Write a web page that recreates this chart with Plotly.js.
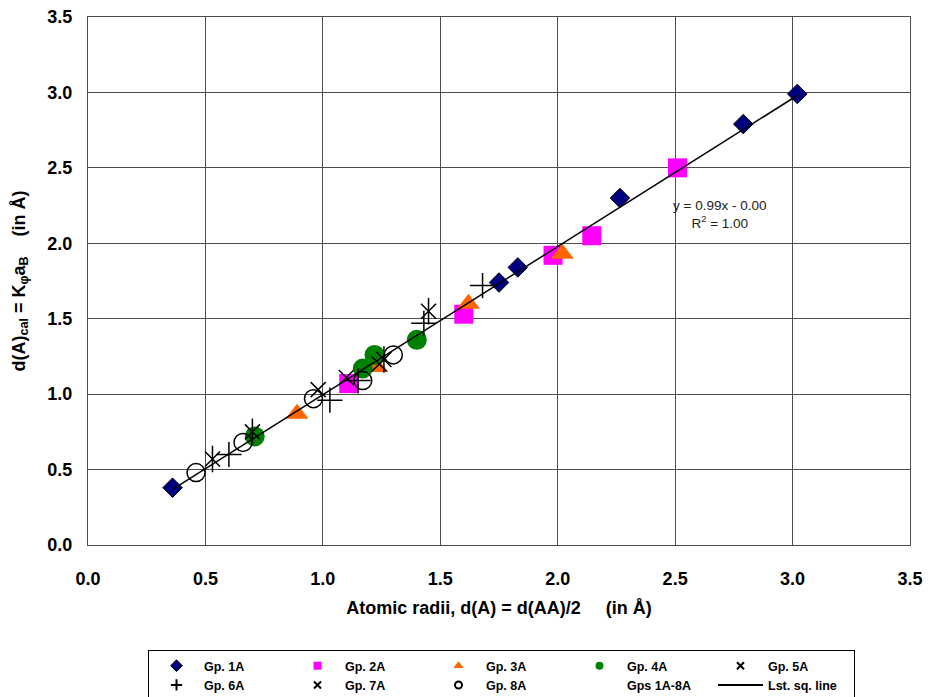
<!DOCTYPE html>
<html>
<head>
<meta charset="utf-8">
<script src="https://cdn.plot.ly/plotly-3.0.1.min.js"></script>
<style>html,body{margin:0;padding:0;background:#fff;}#chart{width:930px;height:697px;}</style>
</head>
<body>
<div id="chart"></div>
<script>
// ---- data ----
var g1x = [0.36, 1.75, 1.83, 2.265, 2.79, 3.02];
var g1y = [0.38, 1.74, 1.84, 2.30, 2.79, 2.99];
var g2x = [1.11, 1.60, 1.98, 2.145, 2.51];
var g2y = [1.07, 1.53, 1.92, 2.05, 2.50];
var g3x = [0.89, 1.23, 1.62, 2.02];
var g3y = [0.87, 1.18, 1.60, 1.93];
var g4x = [0.71, 1.17, 1.22, 1.40];
var g4y = [0.72, 1.17, 1.26, 1.36];
var g5x = [0.53, 0.70, 1.26, 1.45];
var g5y = [0.57, 0.75, 1.23, 1.55];
var g6x = [0.60, 1.03, 1.15, 1.43, 1.68];
var g6y = [0.60, 0.96, 1.09, 1.47, 1.72];
var g7x = [0.98, 1.10, 1.24];
var g7y = [1.03, 1.11, 1.20];
var g8x = [0.46, 0.66, 0.96, 1.17, 1.30];
var g8y = [0.48, 0.68, 0.97, 1.09, 1.26];
var legendNames = ["Gp. 1A","Gp. 2A","Gp. 3A","Gp. 4A","Gp. 5A","Gp. 6A","Gp. 7A","Gp. 8A","Gps 1A-8A","Lst. sq. line"];
var tickVals = [0.0, 0.5, 1.0, 1.5, 2.0, 2.5, 3.0, 3.5];
var tickText = ["0.0","0.5","1.0","1.5","2.0","2.5","3.0","3.5"];
var eqText = "y = 0.99x - 0.00<br>R<sup>2</sup> = 1.00";

// least-squares line from all points
var allX = [].concat(g1x,g2x,g3x,g4x,g5x,g6x,g7x,g8x);
var allY = [].concat(g1y,g2y,g3y,g4y,g5y,g6y,g7y,g8y);
var n = allX.length, sx=0, sy=0, sxx=0, sxy=0;
for (var i=0;i<n;i++){sx+=allX[i];sy+=allY[i];sxx+=allX[i]*allX[i];sxy+=allX[i]*allY[i];}
var slope = (n*sxy - sx*sy)/(n*sxx - sx*sx);
var icpt = (sy - slope*sx)/n;
var xmin = Math.min.apply(null, allX), xmax = Math.max.apply(null, allX);
var lineX = [xmin, xmax];
var lineY = lineX.map(function(v){return slope*v+icpt;});

var FONT = "Liberation Sans, Arial, sans-serif";

function pts(x, y, marker){
  return {type:'scatter', mode:'markers', x:x, y:y, marker:marker, showlegend:false, hoverinfo:'skip', cliponaxis:false};
}
var traces = [
  pts(g1x,g1y,{symbol:'diamond', size:15, color:'#000080', line:{color:'#000000', width:1}}),
  pts(g2x,g2y,{symbol:'square', size:19, color:'#FF00FF', line:{width:0}}),
  pts(g3x,g3y,{symbol:'triangle-up', size:20, color:'#FF6600', line:{width:0}}),
  pts(g4x,g4y,{symbol:'circle', size:20, color:'#008000', line:{width:0}}),
  pts(g5x,g5y,{symbol:'x-thin-open', size:15, color:'#000000', line:{color:'#000000', width:1.5}}),
  pts(g5x,g5y,{symbol:'line-ns-open', size:19, color:'#000000', line:{color:'#000000', width:1.5}}),
  pts(g6x,g6y,{symbol:'cross-thin-open', size:18, color:'#000000', line:{color:'#000000', width:1.5}}),
  pts(g7x,g7y,{symbol:'x-thin-open', size:15, color:'#000000', line:{color:'#000000', width:1.5}}),
  pts(g8x,g8y,{symbol:'circle-open', size:18, color:'#000000', line:{color:'#000000', width:1.5}}),
  {type:'scatter', mode:'lines', x:lineX, y:lineY, line:{color:'#000000', width:1.5}, showlegend:false, hoverinfo:'skip'}
];
// legend-only entries (small symbols like the reference legend)
var legSyms = [
  {symbol:'diamond', size:9, color:'#000080', line:{color:'#000', width:1}},
  {symbol:'square', size:8, color:'#FF00FF'},
  {symbol:'triangle-up', size:9, color:'#FF6600'},
  {symbol:'circle', size:8, color:'#008000'},
  {symbol:'x-thin-open', size:7, color:'#000', line:{color:'#000', width:2}},
  {symbol:'cross-thin-open', size:8, color:'#000', line:{color:'#000', width:2}},
  {symbol:'x-thin-open', size:7, color:'#000', line:{color:'#000', width:2}},
  {symbol:'circle-open', size:7, color:'#000', line:{color:'#000', width:2}},
  {symbol:'circle', size:1, color:'rgba(0,0,0,0)'}
];
for (var k=0;k<legSyms.length;k++){
  traces.push({type:'scatter', mode:'markers', x:[null], y:[null], name:legendNames[k], marker:legSyms[k], showlegend:true, hoverinfo:'skip'});
}
traces.push({type:'scatter', mode:'lines', x:[null], y:[null], name:legendNames[9], line:{color:'#000', width:2}, showlegend:true, hoverinfo:'skip'});

var gridC = '#4d4d4d';
var layout = {
  width:930, height:697,
  margin:{l:88, r:20, t:17, b:152, autoexpand:false},
  paper_bgcolor:'#ffffff', plot_bgcolor:'#ffffff',
  font:{family:FONT, color:'#000'},
  xaxis:{range:[0,3.5], tickvals:tickVals, ticktext:tickText, showgrid:true, gridcolor:gridC, gridwidth:1,
    zeroline:false, showline:true, mirror:true, linecolor:gridC, linewidth:1, ticks:'', ticklabelstandoff:17,
    tickfont:{family:FONT, size:18, weight:700, color:'#000'},
    title:{text:'Atomic radii, d(A) = d(AA)/2\u00a0\u00a0\u00a0\u00a0\u00a0(in Å)', font:{family:FONT, size:18, weight:700, color:'#000'}, standoff:13}},
  yaxis:{range:[0,3.5], tickvals:tickVals, ticktext:tickText, showgrid:true, gridcolor:gridC, gridwidth:1,
    zeroline:false, showline:true, mirror:true, linecolor:gridC, linewidth:1, ticks:'', ticklabelstandoff:11,
    tickfont:{family:FONT, size:18, weight:700, color:'#000'},
    title:{text:'d(A)<sub>cal</sub> = K<sub>φ</sub>a<sub>B</sub>\u00a0\u00a0\u00a0\u00a0(in Å)', font:{family:FONT, size:18, weight:700, color:'#000'}, standoff:17}},
  showlegend:true,
  legend:{orientation:'h', x:0.073, xanchor:'left', y:-0.199, yanchor:'top', entrywidth:81, entrywidthmode:'pixels',
    bordercolor:'#000', borderwidth:1, bgcolor:'#fff', itemwidth:45, traceorder:'normal',
    font:{family:FONT, size:12.5, weight:700, color:'#000'}},
  annotations:[{x:2.69, y:2.19, xref:'x', yref:'y', text:eqText, showarrow:false, align:'center',
    font:{family:FONT, size:13.5, color:'#222'}}]
};
Plotly.newPlot('chart', traces, layout, {displayModeBar:false, staticPlot:true});
</script>
</body>
</html>
